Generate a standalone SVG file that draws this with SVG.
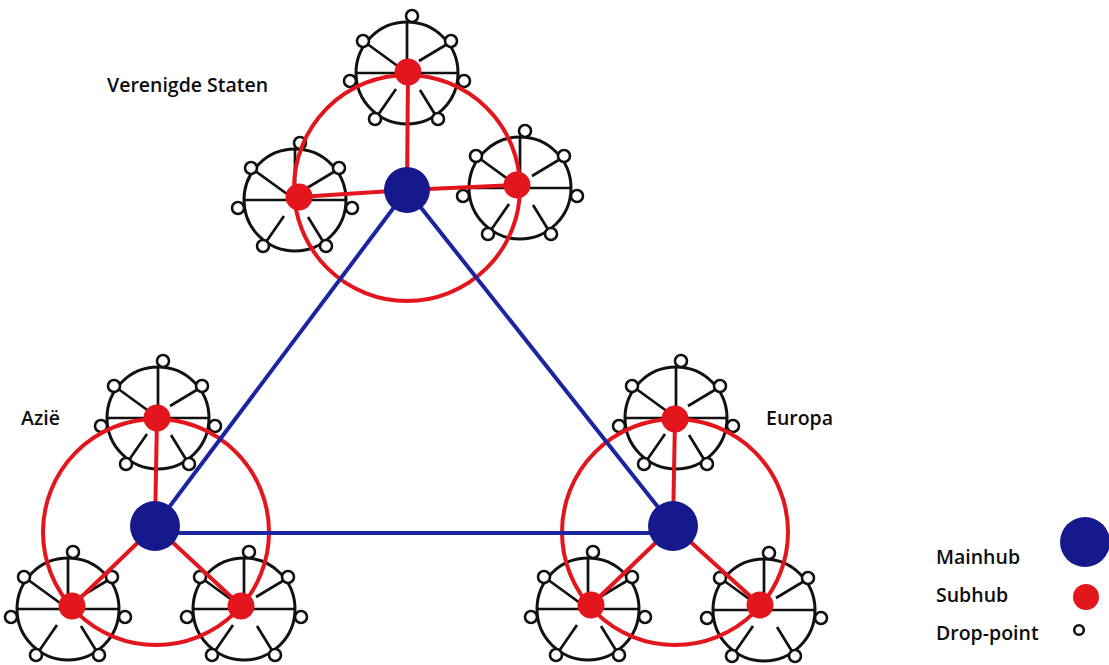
<svg xmlns="http://www.w3.org/2000/svg" width="1109" height="665" viewBox="0 0 1109 665">
<style>
.lbl{font-family:"Open Sans","DejaVu Sans",sans-serif;font-weight:600;font-size:19.5px;fill:#0d0d0d}
.ring{fill:none;stroke:#e3151d;stroke-width:4}
.red{stroke:#e3151d;stroke-width:4;fill:none}
.blue{stroke:#1c25a0;stroke-width:4;fill:none}
.main{fill:#16198c}
.sub{fill:#e3151d}
.wc{fill:none;stroke:#111;stroke-width:3}
.sp{stroke:#111;stroke-width:2.7;fill:none}
.dp{fill:#fff;stroke:#111;stroke-width:2.6}
</style>
<defs>
<g id="wheel">
<circle class="wc" r="51"/>
<path class="sp" d="M0,0 V-51 M-51,0 H51 M-8,-6 L-41,-30 M12,-12 L42,-30 M-11,16 L-29,42 M13,17 L29,43"/>
<circle class="dp" cx="5" cy="-57" r="6"/>
<circle class="dp" cx="-57" cy="8" r="6"/>
<circle class="dp" cx="57" cy="8" r="6"/>
<circle class="dp" cx="-44" cy="-32" r="6"/>
<circle class="dp" cx="44" cy="-32" r="6"/>
<circle class="dp" cx="-32" cy="46" r="6"/>
<circle class="dp" cx="31" cy="46" r="6"/>
</g>
</defs>
<rect width="1109" height="665" fill="#fff"/>

<g id="sub-vs-top"><use href="#wheel" x="407" y="73"/><circle class="sub" cx="408" cy="72" r="13.5"/></g>
<g id="sub-vs-left"><use href="#wheel" x="295" y="200"/><circle class="sub" cx="299" cy="197" r="13.5"/></g>
<g id="sub-vs-right"><use href="#wheel" x="520" y="188"/><circle class="sub" cx="517" cy="185" r="13.5"/></g>
<g id="sub-az-top"><use href="#wheel" x="158" y="418"/><circle class="sub" cx="157" cy="418" r="13.5"/></g>
<g id="sub-az-left"><use href="#wheel" x="68" y="609"/><circle class="sub" cx="72" cy="606" r="13.5"/></g>
<g id="sub-az-right"><use href="#wheel" x="244" y="609"/><circle class="sub" cx="241" cy="606" r="13.5"/></g>
<g id="sub-eu-top"><use href="#wheel" x="676" y="418"/><circle class="sub" cx="675" cy="419" r="13.5"/></g>
<g id="sub-eu-left"><use href="#wheel" x="588" y="609"/><circle class="sub" cx="591" cy="605" r="13.5"/></g>
<g id="sub-eu-right"><use href="#wheel" x="764" y="610"/><circle class="sub" cx="760" cy="605" r="13.5"/></g>

<g id="connectors">
<circle class="ring" cx="407" cy="188" r="113"/>
<circle class="ring" cx="156" cy="532" r="113"/>
<circle class="ring" cx="675" cy="532" r="113"/>
<path class="red" d="M407,190 L408,72 M407,190 L299,197 M407,190 L517,185"/>
<path class="red" d="M155,526 L157,418 M155,526 L72,606 M155,526 L241,606"/>
<path class="red" d="M673,526 L675,419 M673,526 L591,605 M673,526 L760,605"/>
<path class="blue" d="M407,190 L155,526 M407,190 L673,526 M155,533 H673"/>
</g>

<g id="main-vs"><circle class="main" cx="407" cy="190" r="23"/></g>
<g id="main-az"><circle class="main" cx="155" cy="526" r="25"/></g>
<g id="main-eu"><circle class="main" cx="673" cy="526" r="25"/></g>

<g id="label-vs"><text class="lbl" x="107" y="92">Verenigde Staten</text></g>
<g id="label-az"><text class="lbl" x="21" y="425">Azië</text></g>
<g id="label-eu"><text class="lbl" x="766" y="425">Europa</text></g>

<g id="legend">
<g id="legend-main"><text class="lbl" x="936" y="564">Mainhub</text><circle class="main" cx="1085" cy="542" r="25"/></g>
<g id="legend-sub"><text class="lbl" x="936" y="602">Subhub</text><circle class="sub" cx="1086" cy="597" r="13"/></g>
<g id="legend-drop"><text class="lbl" x="936" y="640">Drop-point</text><circle class="dp" cx="1079" cy="630" r="4.8" stroke-width="3"/></g>
</g>
</svg>
